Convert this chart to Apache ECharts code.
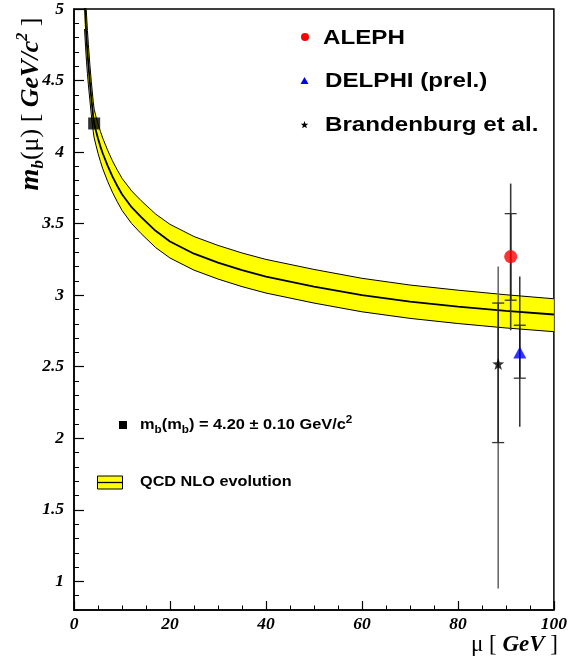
<!DOCTYPE html>
<html><head><meta charset="utf-8">
<script src="https://cdn.jsdelivr.net/npm/echarts@6/dist/echarts.min.js"></script>
<style>html,body{margin:0;padding:0;background:#fff}#c{width:570px;height:659px}</style>
</head><body><div id="c"></div>
<script>
// QCD NLO evolution band of m_b(mu)
const mu      = [2.2, 2.4, 2.6, 2.8, 3.0, 3.3, 3.6, 4.0, 4.2, 4.6, 5.0, 5.5, 6, 7, 8, 9, 10, 12, 14, 17, 20, 25, 30, 35, 40, 50, 60, 70, 80, 90, 100];
const central = [5.06, 4.92, 4.80, 4.70, 4.61, 4.49, 4.38, 4.25, 4.20, 4.145, 4.095, 4.04, 3.99, 3.905, 3.83, 3.765, 3.705, 3.615, 3.545, 3.45, 3.375, 3.29, 3.228, 3.175, 3.13, 3.06, 3.00, 2.955, 2.92, 2.89, 2.865];
const upper   = [5.26, 5.10, 4.965, 4.85, 4.75, 4.615, 4.495, 4.355, 4.30, 4.245, 4.198, 4.145, 4.097, 4.014, 3.94, 3.876, 3.817, 3.729, 3.66, 3.567, 3.495, 3.41, 3.348, 3.295, 3.25, 3.18, 3.118, 3.071, 3.035, 3.003, 2.975];
const lower   = [4.86, 4.74, 4.635, 4.55, 4.47, 4.365, 4.265, 4.145, 4.10, 4.045, 3.992, 3.935, 3.883, 3.796, 3.72, 3.654, 3.593, 3.501, 3.43, 3.333, 3.26, 3.175, 3.113, 3.06, 3.015, 2.945, 2.884, 2.838, 2.802, 2.771, 2.745];

// reference point m_b(m_b)
const refPoint = [4.2, 4.20];

// measurements: [mu, value, innerLow, innerHigh, totalLow, totalHigh]
const aleph       = [91.0, 3.27, 2.965, 3.57, 2.755, 3.78];
const delphi      = [92.9, 2.60, 2.42, 2.79, 2.08, 3.13];
const brandenburg = [88.4, 2.52, 1.97, 2.945, 0.95, 3.20];

const xTicks = [0, 20, 40, 60, 80, 100];
const yTicks = [1, 1.5, 2, 2.5, 3, 3.5, 4, 4.5, 5];

const measurements = [aleph, delphi, brandenburg];
const barStyles = [
  {tot:'#3a3a3a', inner:'#222', w:1.6},
  {tot:'#111', inner:'#111', w:1.3},
  {tot:'#6a6a6a', inner:'#2a2a2a', w:1.6}
];

const starPath = 'path://M0,-10L2.35,-3.24L9.51,-3.09L3.8,1.24L5.88,8.09L0,4L-5.88,8.09L-3.8,1.24L-9.51,-3.09L-2.35,-3.24Z';

function starPoints(cx, cy, R) {
  const pts = [];
  for (let i = 0; i < 10; i++) {
    const r = i % 2 === 0 ? R : R * 0.42;
    const a = -Math.PI / 2 + i * Math.PI / 5;
    pts.push([cx + r * Math.cos(a), cy + r * Math.sin(a)]);
  }
  return pts;
}

const tickFont = {fontFamily:'Liberation Serif', fontStyle:'italic', fontWeight:'bold', fontSize:17.5, color:'#000'};
const sans = 'Liberation Sans';

const chart = echarts.init(document.getElementById('c'), null, {renderer:'canvas'});
chart.setOption({
  animation:false,
  backgroundColor:'#fff',
  grid:{left:74, right:12, top:7, bottom:49, show:true, borderColor:'#000', borderWidth:1.5, backgroundColor:'transparent'},
  xAxis:{
    type:'value', min:0, max:100, interval:20,
    axisLine:{show:true, onZero:false, lineStyle:{color:'#000', width:1.5}},
    axisTick:{show:true, inside:true, length:9, lineStyle:{color:'#000', width:1.2}},
    minorTick:{show:true, splitNumber:4, length:4.5, lineStyle:{color:'#000', width:1}},
    splitLine:{show:false}, minorSplitLine:{show:false},
    axisLabel:Object.assign({margin:5, customValues:xTicks}, tickFont)
  },
  yAxis:[
    {
      type:'value', min:0.8, max:5, interval:0.1,
      axisLine:{show:true, onZero:false, lineStyle:{color:'#000', width:1.5}},
      axisTick:{show:true, inside:true, length:5, lineStyle:{color:'#000', width:1}},
      axisLabel:{show:false}, splitLine:{show:false}
    },
    {
      type:'value', min:0.8, max:5, position:'left',
      axisLine:{show:false},
      axisTick:{show:true, inside:true, length:10, customValues:yTicks, lineStyle:{color:'#000', width:1.2}},
      axisLabel:Object.assign({margin:10, customValues:yTicks}, tickFont),
      splitLine:{show:false}
    }
  ],
  series:[
    {
      type:'custom', name:'band', clip:true, z:1, silent:true,
      data:[[50, 3]],
      renderItem:function(params, api){
        const pts = [];
        for (let i = 0; i < mu.length; i++) pts.push(api.coord([mu[i], upper[i]]));
        for (let i = mu.length - 1; i >= 0; i--) pts.push(api.coord([mu[i], lower[i]]));
        return {type:'polygon', shape:{points:pts}, style:{fill:'#ffff00', stroke:null}};
      }
    },
    {type:'line', name:'upper', data:mu.map((m,i)=>[m, upper[i]]), showSymbol:false, symbol:'none', clip:true, z:3,
      lineStyle:{color:'#000', width:1}},
    {type:'line', name:'lower', data:mu.map((m,i)=>[m, lower[i]]), showSymbol:false, symbol:'none', clip:true, z:3,
      lineStyle:{color:'#000', width:1}},
    {type:'line', name:'central', data:mu.map((m,i)=>[m, central[i]]), showSymbol:false, symbol:'none', clip:true, z:3,
      lineStyle:{color:'#000', width:1.8}},
    {
      type:'custom', name:'errors', z:4, silent:true,
      data:measurements,
      encode:{x:0, y:1},
      renderItem:function(params, api){
        const s = barStyles[params.dataIndex];
        const x = api.value(0);
        const pTotL = api.coord([x, api.value(4)]);
        const pTotH = api.coord([x, api.value(5)]);
        const pInL = api.coord([x, api.value(2)]);
        const pInH = api.coord([x, api.value(3)]);
        const hw = 6;
        return {type:'group', children:[
          {type:'line', shape:{x1:pTotL[0], y1:pTotL[1], x2:pTotH[0], y2:pTotH[1]}, style:{stroke:s.tot, lineWidth:s.w}},
          {type:'line', shape:{x1:pInL[0], y1:pInL[1], x2:pInH[0], y2:pInH[1]}, style:{stroke:s.inner, lineWidth:s.w}},
          {type:'line', shape:{x1:pInL[0]-hw, y1:pInL[1], x2:pInL[0]+hw, y2:pInL[1]}, style:{stroke:'#333', lineWidth:1.3}},
          {type:'line', shape:{x1:pInH[0]-hw, y1:pInH[1], x2:pInH[0]+hw, y2:pInH[1]}, style:{stroke:'#333', lineWidth:1.3}}
        ]};
      }
    },
    {type:'scatter', name:'ALEPH', data:[[aleph[0], aleph[1]]], symbol:'circle', symbolSize:13, z:5,
      itemStyle:{color:'#ff0000'}},
    {type:'scatter', name:'DELPHI', data:[[delphi[0], delphi[1]]], symbol:'triangle', symbolSize:[13,12], z:5,
      itemStyle:{color:'#0000ff'}},
    {type:'scatter', name:'Brandenburg', data:[[brandenburg[0], brandenburg[1]]], symbol:starPath, symbolSize:12, z:5,
      itemStyle:{color:'#000'}},
    {type:'scatter', name:'mbmb', data:[refPoint], symbol:'rect', symbolSize:12, z:5,
      itemStyle:{color:'#000'}}
  ],
  graphic:[
    // y axis title
    {type:'text', x:31, y:104, rotation:Math.PI/2, z:10,
      style:{
        text:'{mi|m}{sub|b}{r|(μ) [ }{bi|GeV/c}{sup|2}{r| ]}',
        align:'center', verticalAlign:'middle',
        rich:{
          mi:{fontFamily:'Liberation Serif', fontStyle:'italic', fontWeight:'bold', fontSize:28, lineHeight:32, verticalAlign:'middle', fill:'#000'},
          sub:{fontFamily:'Liberation Serif', fontStyle:'italic', fontWeight:'bold', fontSize:17, lineHeight:17, verticalAlign:'bottom', fill:'#000'},
          r:{fontFamily:'Liberation Serif', fontSize:26, lineHeight:32, verticalAlign:'middle', fill:'#000'},
          bi:{fontFamily:'Liberation Serif', fontStyle:'italic', fontWeight:'bold', fontSize:26, lineHeight:32, verticalAlign:'middle', fill:'#000'},
          sup:{fontFamily:'Liberation Serif', fontStyle:'italic', fontWeight:'bold', fontSize:16, lineHeight:16, verticalAlign:'top', fill:'#000'}
        }
      }},
    // x axis title
    {type:'text', x:558, y:645, z:10,
      style:{
        text:'{r|μ [ }{bi|GeV}{r| ]}',
        align:'right', verticalAlign:'middle',
        rich:{
          r:{fontFamily:'Liberation Serif', fontSize:23, fill:'#000'},
          bi:{fontFamily:'Liberation Serif', fontStyle:'italic', fontWeight:'bold', fontSize:23, fill:'#000'}
        }
      }},
    // top-right legend
    {type:'circle', shape:{cx:305, cy:37, r:4}, style:{fill:'#ff0000'}, z:10},
    {type:'polygon', shape:{points:[[300.5,84],[308.5,84],[304.5,77]]}, style:{fill:'#0000ff'}, z:10},
    {type:'polygon', shape:{points:starPoints(304.5,125,4)}, style:{fill:'#000'}, z:10},
    {type:'text', x:323, y:38, scaleX:1.15, z:10, style:{text:'ALEPH', font:'bold 21px "Liberation Sans"', fill:'#000', verticalAlign:'middle'}},
    {type:'text', x:325, y:81, scaleX:1.15, z:10, style:{text:'DELPHI (prel.)', font:'bold 21px "Liberation Sans"', fill:'#000', verticalAlign:'middle'}},
    {type:'text', x:325, y:125, scaleX:1.15, z:10, style:{text:'Brandenburg et al.', font:'bold 21px "Liberation Sans"', fill:'#000', verticalAlign:'middle'}},
    // lower legend
    {type:'rect', shape:{x:119, y:421, width:8, height:8}, style:{fill:'#000'}, z:10},
    {type:'text', x:140, y:425, scaleX:1.17, z:10,
      style:{
        text:'{t|m}{s|b}{t|(m}{s|b}{t|) = 4.20 ± 0.10 GeV/c}{p|2}',
        verticalAlign:'middle',
        rich:{
          t:{fontFamily:sans, fontWeight:'bold', fontSize:14, lineHeight:20, verticalAlign:'middle', fill:'#000'},
          s:{fontFamily:sans, fontWeight:'bold', fontSize:10, lineHeight:11, verticalAlign:'bottom', fill:'#000'},
          p:{fontFamily:sans, fontWeight:'bold', fontSize:10, lineHeight:11, verticalAlign:'top', fill:'#000'}
        }
      }},
    {type:'rect', shape:{x:97.5, y:476, width:25, height:13}, style:{fill:'#ffff00', stroke:'#000', lineWidth:1}, z:10},
    {type:'line', shape:{x1:97.5, y1:482.5, x2:122.5, y2:482.5}, style:{stroke:'#000', lineWidth:1.3}, z:10},
    {type:'text', x:140, y:482, scaleX:1.16, z:10, style:{text:'QCD NLO evolution', font:'bold 14px "Liberation Sans"', fill:'#000', verticalAlign:'middle'}}
  ]
});
</script>
</body></html>
